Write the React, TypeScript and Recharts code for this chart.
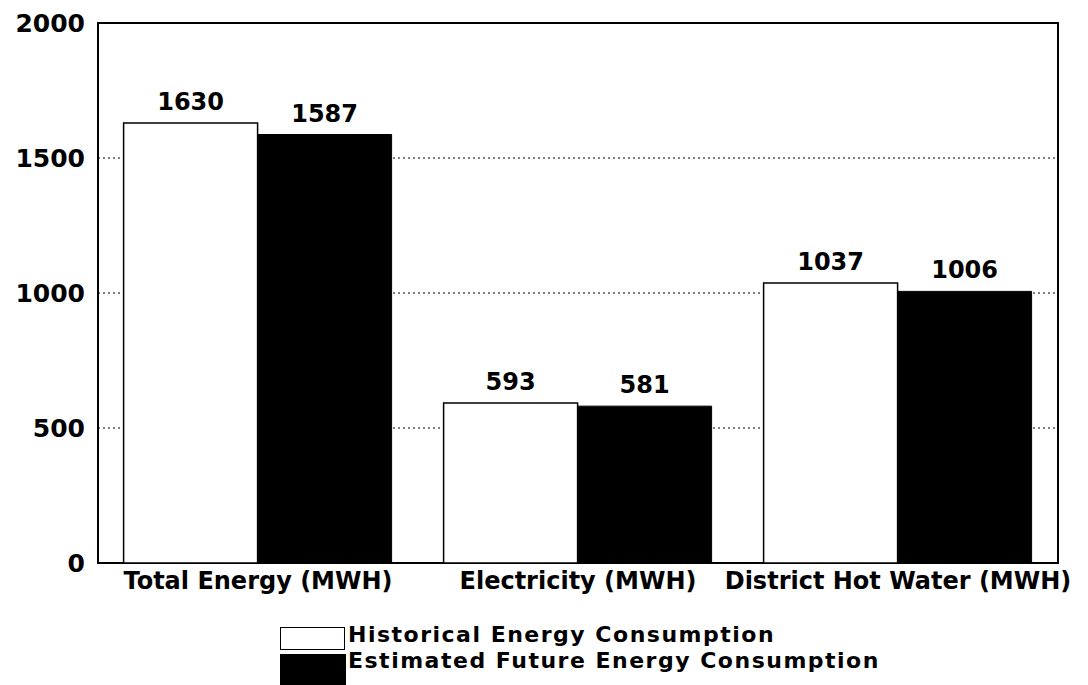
import React from 'react';
import {
  BarChart,
  Bar,
  XAxis,
  YAxis,
  CartesianGrid,
  ReferenceArea,
  LabelList,
  Legend,
} from 'recharts';

const categories = ['Total Energy (MWH)', 'Electricity (MWH)', 'District Hot Water (MWH)'];
const historical = [1630, 593, 1037];
const estimated = [1587, 581, 1006];
const yTicks = [0, 500, 1000, 1500, 2000];

const data = categories.map((name, i) => ({
  name,
  historical: historical[i],
  estimated: estimated[i],
}));

const FONT = '"DejaVu Sans", "Liberation Sans", Arial, sans-serif';

const legendText: React.CSSProperties = {
  position: 'absolute',
  left: 68,
  fontSize: 22,
  fontWeight: 'bold',
  letterSpacing: 1.5,
  lineHeight: '26px',
  height: 26,
  color: '#000',
  whiteSpace: 'nowrap',
};

const renderLegend = () => (
  <div style={{ position: 'relative', width: 620, height: 60, fontFamily: FONT }}>
    <div
      style={{
        position: 'absolute',
        left: 0,
        top: 2,
        width: 63,
        height: 21,
        border: '1.5px solid #000',
        background: '#fff',
      }}
    />
    <div style={{ ...legendText, top: -3 }}>Historical Energy Consumption</div>
    <div
      style={{
        position: 'absolute',
        left: 0,
        top: 29,
        width: 66,
        height: 31,
        background: '#000',
      }}
    />
    <div style={{ ...legendText, top: 23 }}>Estimated Future Energy Consumption</div>
  </div>
);

export default function App() {
  return (
    <div style={{ position: 'absolute', left: 0, top: 0, width: 1088, height: 685, background: '#fff' }}>
      <BarChart
        width={1088}
        height={685}
        data={data}
        margin={{ top: 23, right: 30, bottom: 82, left: 0 }}
        barCategoryGap="8%"
        barGap={0}
      >
        <CartesianGrid vertical={false} stroke="#000" strokeDasharray="2 3" strokeWidth={1} />
        <XAxis
          dataKey="name"
          height={40}
          axisLine={false}
          tickLine={false}
          tickSize={4}
          tickMargin={5}
          interval={0}
          tick={{ fontSize: 24, fontWeight: 'bold', fill: '#000', fontFamily: FONT }}
        />
        <YAxis
          width={98}
          domain={[0, 2000]}
          ticks={yTicks}
          axisLine={false}
          tickLine={false}
          tickSize={6}
          tickMargin={7}
          tick={{ fontSize: 25, fontWeight: 'bold', fill: '#000', fontFamily: FONT }}
        />
        <Bar dataKey="historical" fill="#fff" stroke="#000" strokeWidth={1.5} isAnimationActive={false}>
          <LabelList
            dataKey="historical"
            position="top"
            offset={13}
            style={{ fontSize: 24, fontWeight: 'bold', fill: '#000', fontFamily: FONT }}
          />
        </Bar>
        <Bar dataKey="estimated" fill="#000" stroke="#000" strokeWidth={1} isAnimationActive={false}>
          <LabelList
            dataKey="estimated"
            position="top"
            offset={13}
            style={{ fontSize: 24, fontWeight: 'bold', fill: '#000', fontFamily: FONT }}
          />
        </Bar>
        <ReferenceArea y1={0} y2={2000} fill="none" stroke="#000" strokeWidth={2} ifOverflow="visible" />
        <Legend
          layout="horizontal"
          align="center"
          verticalAlign="middle"
          content={renderLegend}
          wrapperStyle={{ position: 'absolute', left: 280, top: 625, width: 620, height: 60 }}
        />
      </BarChart>
    </div>
  );
}
